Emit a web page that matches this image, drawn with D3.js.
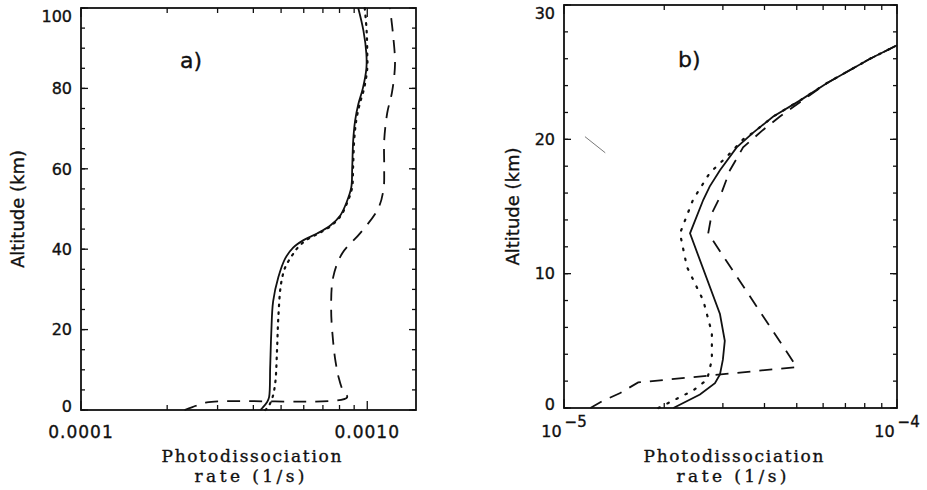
<!DOCTYPE html>
<html>
<head>
<meta charset="utf-8">
<script src="https://cdn.jsdelivr.net/npm/d3@7"></script>
<style>
  body { margin: 0; background: #fff; }
  svg { display: block; }
  text { stroke: #111; stroke-width: 0.35px; }
</style>
</head>
<body>
<div id="chart"></div>
<script>
// panel a) -- [altitude km, rate 1/s]
const aSolid = [[0,4.23e-4],[0.5,4.3e-4],[2,4.47e-4],[3.2,4.54e-4],[10.7,4.58e-4],[19,4.62e-4],[27,4.69e-4],
  [33,4.89e-4],[37.7,5.17e-4],[40.4,5.51e-4],[42.2,5.97e-4],[43.9,6.68e-4],[45.9,7.43e-4],[48.4,8.05e-4],
  [51.5,8.45e-4],[55.3,8.79e-4],[60.3,8.86e-4],[67,8.93e-4],[72,9.07e-4],[76,9.3e-4],[80,9.65e-4],
  [85,9.93e-4],[88.6,9.93e-4],[94.3,9.7e-4],[100,9.3e-4]];
const aDotted = [[0,4.4e-4],[0.7,4.5e-4],[3,4.66e-4],[6.7,4.77e-4],[15,4.84e-4],[23,4.89e-4],[31.5,5.0e-4],
  [35.5,5.17e-4],[38.5,5.47e-4],[40.2,5.69e-4],[42.2,6.1e-4],[43.9,6.75e-4],[45.9,7.5e-4],[48.4,8.1e-4],
  [51.5,8.5e-4],[55.3,8.85e-4],[60.3,8.92e-4],[67,9.0e-4],[72,9.15e-4],[76,9.4e-4],[80,9.75e-4],
  [85,1.0e-3],[88.6,1.0e-3],[94.3,9.95e-4],[100,9.8e-4]];
const aDashed = [[0,2.3e-4],[0.7,2.45e-4],[1.9,2.75e-4],[3.1,8.5e-4],[5,8.2e-4],[8,7.95e-4],[12,7.75e-4],
  [17,7.6e-4],[25,7.48e-4],[33,7.6e-4],[39,8.18e-4],[44,9.45e-4],[50,1.09e-3],[55,1.14e-3],[60,1.146e-3],
  [67,1.146e-3],[74,1.175e-3],[79,1.22e-3],[86,1.25e-3],[93.5,1.23e-3],[100,1.2e-3]];

// panel b)
const bSolid = [[0,2.13e-5],[1,2.56e-5],[1.85,2.84e-5],[2.5,2.94e-5],[3.6,3.0e-5],[5,3.04e-5],[7,2.94e-5],
  [13,2.39e-5],[15.5,2.62e-5],[16.5,2.74e-5],[17.7,2.94e-5],[19.4,3.3e-5],[20.5,3.7e-5],[21.7,4.25e-5],
  [22.9,5.12e-5],[24.2,6.17e-5],[26,8.3e-5],[27,1e-4]];
const bDotted = [[0,1.92e-5],[1.3,2.44e-5],[2.1,2.69e-5],[3.6,2.78e-5],[5.6,2.78e-5],[8,2.62e-5],
  [10.5,2.34e-5],[13,2.23e-5],[15.5,2.44e-5],[17.5,2.74e-5],[18.7,3.08e-5],[20,3.45e-5],[20.5,3.7e-5],
  [21.7,4.25e-5],[22.9,5.12e-5],[24.2,6.17e-5],[26,8.3e-5],[27,1e-4]];
const bDashed = [[0,1.2e-5],[0.5,1.3e-5],[1.1,1.47e-5],[1.9,1.67e-5],[3.05,5.0e-5],[13,2.71e-5],
  [14.5,2.78e-5],[15.7,2.94e-5],[17.7,3.15e-5],[19.4,3.45e-5],[20.7,3.96e-5],[21.7,4.45e-5],
  [22.9,5.2e-5],[24.2,6.17e-5],[26,8.3e-5],[27,1e-4]];
const bStray = [[20.2,1.156e-5],[19.0,1.33e-5]];   // scan mark left of the curves

const aYTicks = [0, 20, 40, 60, 80, 100];
const bYTicks = [0, 10, 20, 30];
const aXTicks = [1e-4, 1e-3];
const aXLabels = ["0.0001", "0.0010"];
const bXTicks = [1e-5, 1e-4];
const bXExps = ["\u22125", "\u22124"];
const panelNames = ["a)", "b)"];

const W = 927, H = 490;
const svg = d3.select("#chart").append("svg").attr("width", W).attr("height", H);
const ink = "#111";

const panels = [
  { x: d3.scaleLog().domain([1e-4, 1.48e-3]).range([81, 416]),
    y: d3.scaleLinear().domain([0, 100]).range([410, 8]),
    yTicks: aYTicks, yMinor: d3.range(0, 101, 5), xTicks: aXTicks,
    lines: [aSolid, aDotted, aDashed], curve: d3.curveCatmullRom.alpha(0.5),
    dots: "1.6,6", name: panelNames[0], namePos: [180, 68], ylab: 18 },
  { x: d3.scaleLog().domain([1e-5, 1e-4]).range([564, 897]),
    y: d3.scaleLinear().domain([0, 30]).range([408, 5]),
    yTicks: bYTicks, yMinor: d3.range(0, 31, 2), xTicks: bXTicks,
    lines: [bSolid, bDotted, bDashed], curve: d3.curveLinear,
    dots: "1.6,8.5", name: panelNames[1], namePos: [678, 67], ylab: 513 }
];

panels.forEach((p, i) => {
  const g = svg.append("g");
  const [x0, x1] = p.x.range(), [y0, y1] = p.y.range();
  const xMinor = [];
  p.xTicks.forEach(t => d3.range(2, 10).forEach(k => { if (k * t <= p.x.domain()[1]) xMinor.push(k * t); }));

  // ticks on all four sides, pointing inward
  const xt = xMinor.map(v => [v, 5]).concat(p.xTicks.map(v => [v, 9]));
  const yt = p.yMinor.map(v => [v, 4]).concat(p.yTicks.map(v => [v, 7]));
  const tg = g.append("g").attr("stroke", ink).attr("stroke-width", 1.3);
  [[y0, -1], [y1, 1]].forEach(([yy, s]) => {
    tg.selectAll(null).data(xt).enter().append("line")
      .attr("x1", d => p.x(d[0])).attr("x2", d => p.x(d[0]))
      .attr("y1", yy).attr("y2", d => yy + s * d[1]);
  });
  [[x0, 1], [x1, -1]].forEach(([xx, s]) => {
    tg.selectAll(null).data(yt).enter().append("line")
      .attr("y1", d => p.y(d[0])).attr("y2", d => p.y(d[0]))
      .attr("x1", xx).attr("x2", d => xx + s * d[1]);
  });

  g.append("rect").attr("x", x0).attr("y", y1).attr("width", x1 - x0).attr("height", y0 - y1)
    .attr("fill", "none").attr("stroke", ink).attr("stroke-width", 1.8);

  // y tick labels
  g.selectAll(".ylab").data(p.yTicks).enter().append("text")
    .attr("x", x0 - 9)
    .attr("y", d => Math.max(y1 + 8, Math.min(y0 - 4, p.y(d))))
    .attr("dy", "0.36em")
    .attr("text-anchor", "end")
    .attr("font-family", "DejaVu Sans").attr("font-size", 16).attr("fill", ink)
    .text(d => d);

  // x tick labels
  if (i === 0) {
    g.selectAll(".xlab").data(p.xTicks).enter().append("text")
      .attr("x", d => p.x(d)).attr("y", 438)
      .attr("text-anchor", "middle").attr("letter-spacing", 1)
      .attr("font-family", "DejaVu Sans").attr("font-size", 17).attr("fill", ink)
      .text((d, j) => aXLabels[j]);
  } else {
    const t = g.selectAll(".xlab").data(p.xTicks).enter().append("text")
      .attr("x", d => p.x(d)).attr("y", 437)
      .attr("text-anchor", "middle")
      .attr("font-family", "DejaVu Sans").attr("font-size", 16).attr("fill", ink);
    t.append("tspan").text("10");
    t.append("tspan").attr("dx", 3).attr("dy", -10).attr("font-size", 15).text((d, j) => bXExps[j]);
  }

  // axis titles
  const cx = (x0 + x1) / 2 + 3;
  g.append("text").attr("x", cx).attr("y", 462).attr("text-anchor", "middle")
    .attr("font-family", "DejaVu Serif").attr("font-size", 17).attr("fill", ink)
    .attr("textLength", 180).attr("lengthAdjust", "spacing")
    .text("Photodissociation");
  g.append("text").attr("x", cx - 2).attr("y", 482).attr("text-anchor", "middle")
    .attr("font-family", "DejaVu Serif").attr("font-size", 17).attr("fill", ink)
    .attr("textLength", 110).attr("lengthAdjust", "spacing")
    .text("rate (1/s)");
  g.append("text")
    .attr("transform", `translate(${p.ylab},${(y0 + y1) / 2}) rotate(-90)`)
    .attr("text-anchor", "middle").attr("dy", "0.35em")
    .attr("font-family", "DejaVu Sans").attr("font-size", 18).attr("fill", ink)
    .text("Altitude (km)");

  g.append("text").attr("x", p.namePos[0]).attr("y", p.namePos[1])
    .attr("font-family", "DejaVu Sans").attr("font-size", 22).attr("fill", ink)
    .text(p.name);

  // profiles: solid, dotted, dashed
  const line = d3.line().x(d => p.x(d[1])).y(d => p.y(d[0])).curve(p.curve);
  const styles = [
    { dash: null, cap: "butt" },
    { dash: p.dots, cap: "round" },
    { dash: "13,9", cap: "butt" }
  ];
  p.lines.forEach((data, k) => {
    g.append("path").datum(data)
      .attr("d", line)
      .attr("fill", "none").attr("stroke", ink)
      .attr("stroke-width", k === 1 ? 2.2 : 1.8)
      .attr("stroke-linecap", styles[k].cap)
      .attr("stroke-dasharray", styles[k].dash);
  });

  if (i === 1) {
    g.append("path").datum(bStray)
      .attr("d", d3.line().x(d => p.x(d[1])).y(d => p.y(d[0])))
      .attr("stroke", "#555").attr("stroke-width", 0.8).attr("fill", "none");
  }
});
</script>
</body>
</html>
